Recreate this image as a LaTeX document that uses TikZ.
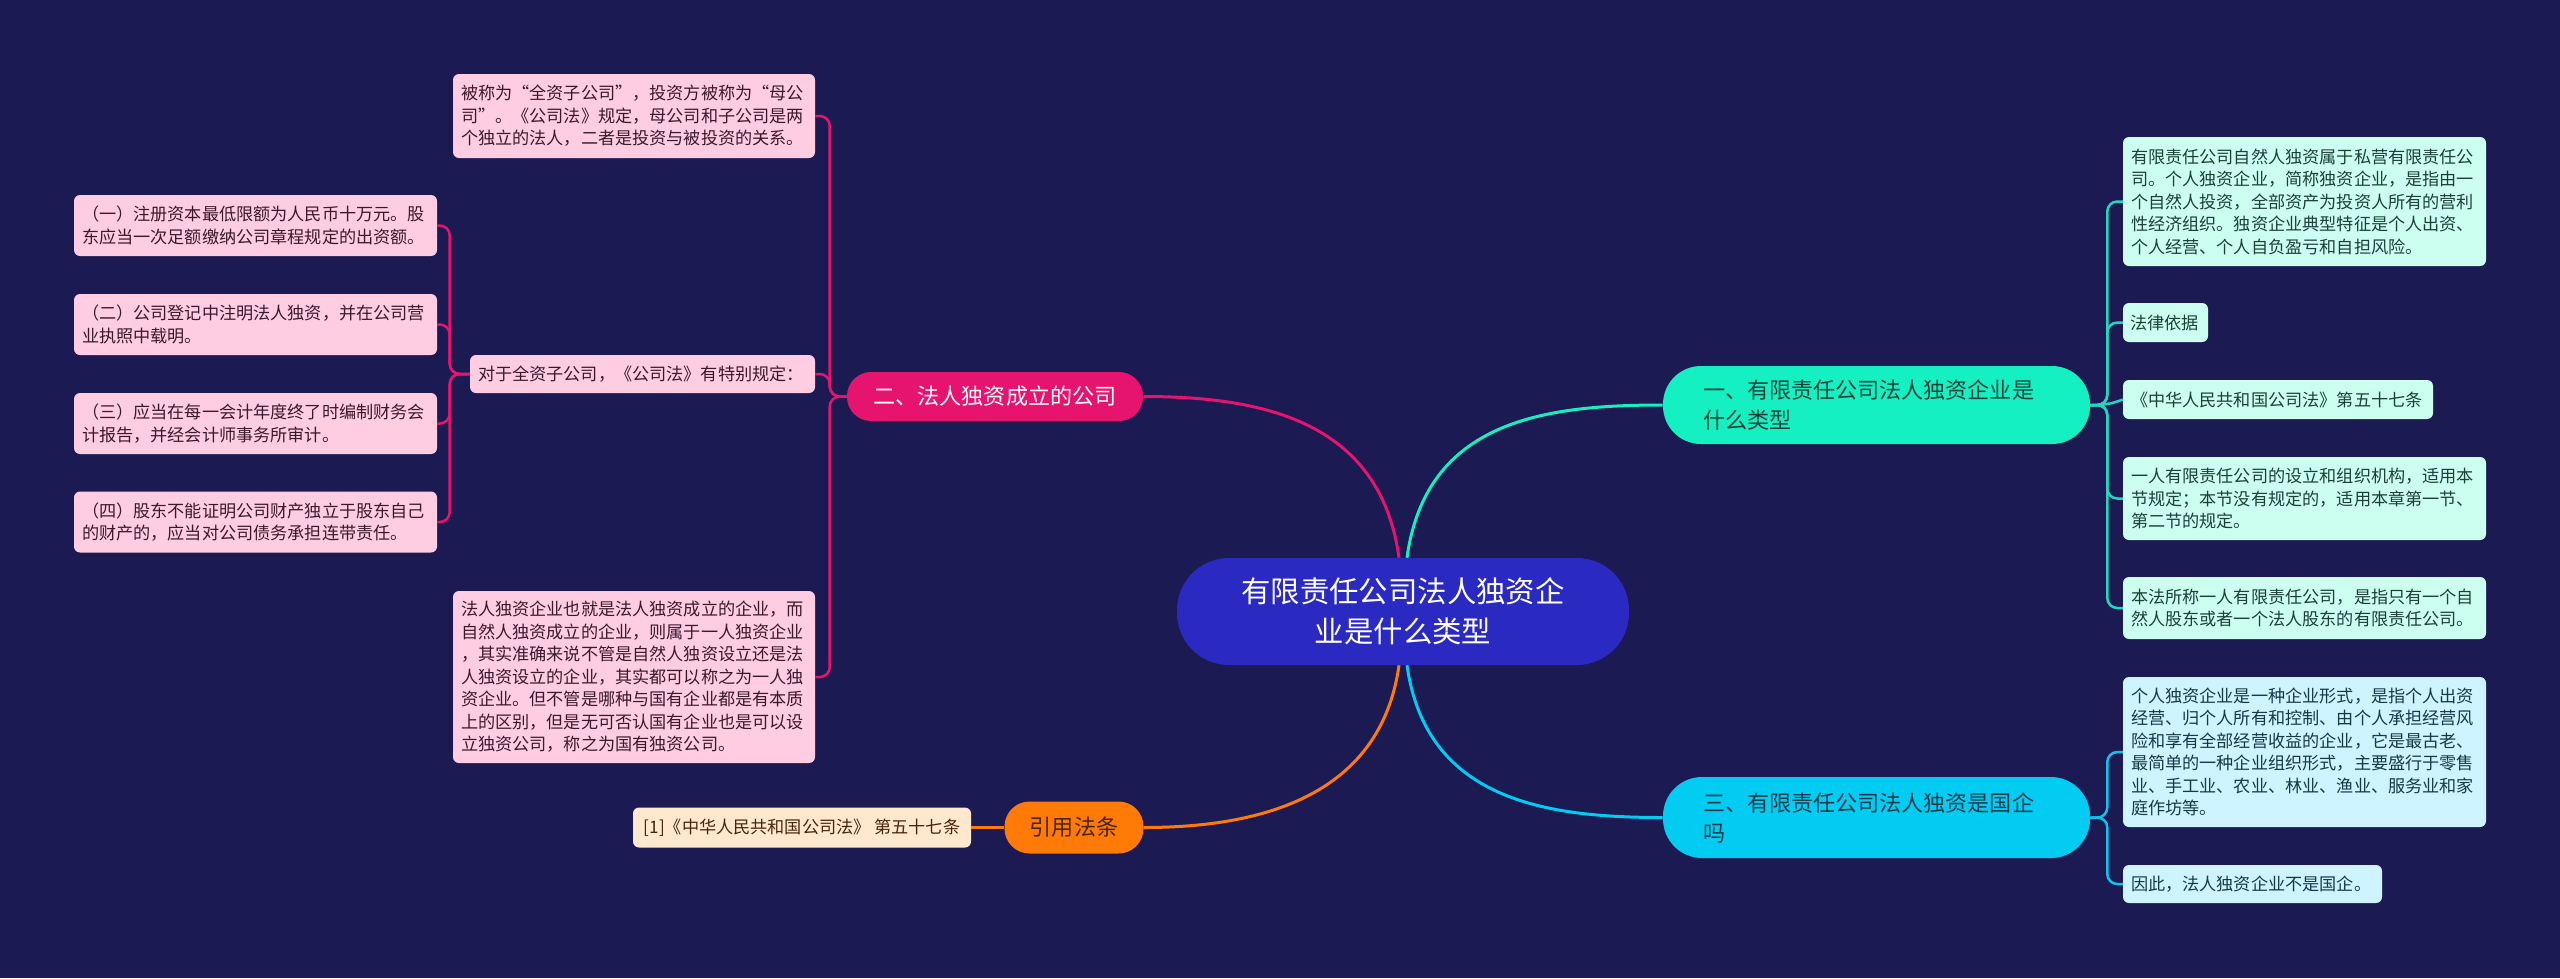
\documentclass[tikz,border=0pt]{standalone}
\usepackage{fontspec}
\usepackage{xcolor}
\newfontfamily\cjk{Noto Sans CJK SC}
\newdimen\pxu \pxu=0.25mm
\definecolor{bgnavy}{HTML}{1B1A52}
\definecolor{rootblue}{HTML}{2A2AC2}
\definecolor{mint}{HTML}{14F0C2}
\definecolor{mintline}{HTML}{22D6C2}
\definecolor{skyblue}{HTML}{02CCF2}
\definecolor{skyline}{HTML}{12C2EC}
\definecolor{rose}{HTML}{E6146E}
\definecolor{amber}{HTML}{FF7A06}
\definecolor{pinkleaf}{HTML}{FFCDE2}
\definecolor{mintleaf}{HTML}{CDFFF1}
\definecolor{skyleaf}{HTML}{CDF4FF}
\definecolor{peachleaf}{HTML}{FFE8CD}
\definecolor{roseink}{HTML}{3A1A2A}
\definecolor{mintink}{HTML}{1A4038}
\definecolor{skyink}{HTML}{173848}
\definecolor{amberink}{HTML}{452410}

\begin{document}
\begin{tikzpicture}[x=\pxu, y=-\pxu,
  topic/.style={font=\cjk\fontsize{20.9}{28.5}\selectfont, text=white, fill=rootblue,
    rounded corners=52\pxu, align=center, minimum width=452\pxu, minimum height=107\pxu},
  branch/.style={font=\cjk\fontsize{15.7}{21.3}\selectfont, rounded corners=24\pxu,
    inner sep=0pt},
  leaf/.style={font=\cjk\fontsize{12.2}{16}\selectfont, rounded corners=6\pxu,
    align=left, inner xsep=8\pxu, inner ysep=0pt},
  link/.style={line width=3\pxu},
  twig/.style={line width=2.5\pxu, rounded corners=10\pxu}]

  \fill[bgnavy] (0,0) rectangle (2560,978);

  \node[topic] (root) at (1403,611.5) {有限责任公司法人独资企\\业是什么类型};

  \node[branch, fill=mint, text=mintink, align=left, text width=347\pxu, inner xsep=40\pxu,
    minimum height=78\pxu, rounded corners=38\pxu] (b1) at (1876.5,405)
    {一、有限责任公司法人独资企业是\\什么类型};
  \node[branch, fill=rose, text=white, minimum width=296\pxu, minimum height=49\pxu]
    (b2) at (995,396.5) {二、法人独资成立的公司};
  \node[branch, fill=skyblue, text=skyink, align=left, text width=347\pxu, inner xsep=40\pxu,
    minimum height=81\pxu, rounded corners=39\pxu] (b3) at (1876.5,817.5)
    {三、有限责任公司法人独资是国企\\吗};
  \node[branch, fill=amber, text=amberink, minimum width=139\pxu, minimum height=52\pxu,
    rounded corners=25\pxu] (b4) at (1074,827.5) {引用法条};

  \node[leaf, fill=pinkleaf, text=roseink, text width=346\pxu, minimum height=84\pxu]
    (l1) at (634,116) {被称为“全资子公司”，投资方被称为“母公\\司”。《公司法》规定，母公司和子公司是两\\个独立的法人，二者是投资与被投资的关系。};
  \node[leaf, fill=pinkleaf, text=roseink, text width=329\pxu, minimum height=38\pxu]
    (l2) at (642.5,374) {对于全资子公司，《公司法》有特别规定：};
  \node[leaf, fill=pinkleaf, text=roseink, text width=346\pxu, minimum height=172\pxu]
    (l3) at (634,677) {法人独资企业也就是法人独资成立的企业，而\\自然人独资成立的企业，则属于一人独资企业\\，其实准确来说不管是自然人独资设立还是法\\人独资设立的企业，其实都可以称之为一人独\\资企业。但不管是哪种与国有企业都是有本质\\上的区别，但是无可否认国有企业也是可以设\\立独资公司，称之为国有独资公司。};

  \node[leaf, fill=pinkleaf, text=roseink, text width=347\pxu, minimum height=61\pxu]
    (s1) at (255.5,225.5) {（一）注册资本最低限额为人民币十万元。股\\东应当一次足额缴纳公司章程规定的出资额。};
  \node[leaf, fill=pinkleaf, text=roseink, text width=347\pxu, minimum height=61\pxu]
    (s2) at (255.5,324.5) {（二）公司登记中注明法人独资，并在公司营\\业执照中载明。};
  \node[leaf, fill=pinkleaf, text=roseink, text width=347\pxu, minimum height=61\pxu]
    (s3) at (255.5,423.5) {（三）应当在每一会计年度终了时编制财务会\\计报告，并经会计师事务所审计。};
  \node[leaf, fill=pinkleaf, text=roseink, text width=347\pxu, minimum height=61\pxu]
    (s4) at (255.5,522) {（四）股东不能证明公司财产独立于股东自己\\的财产的，应当对公司债务承担连带责任。};

  \node[leaf, fill=peachleaf, text=amberink, minimum width=338\pxu, minimum height=40\pxu]
    (c1) at (802,827.5) {[1]《中华人民共和国公司法》 第五十七条};

  \node[leaf, fill=mintleaf, text=mintink, text width=347\pxu, minimum height=129\pxu]
    (r1) at (2304.5,201.5) {有限责任公司自然人独资属于私营有限责任公\\司。个人独资企业，简称独资企业，是指由一\\个自然人投资，全部资产为投资人所有的营利\\性经济组织。独资企业典型特征是个人出资、\\个人经营、个人自负盈亏和自担风险。};
  \node[leaf, fill=mintleaf, text=mintink, text width=71\pxu, inner xsep=7\pxu, minimum height=39\pxu]
    (r2) at (2165.5,322.5) {法律依据};
  \node[leaf, fill=mintleaf, text=mintink, text width=294\pxu, minimum height=39\pxu]
    (r3) at (2278,399.5) {《中华人民共和国公司法》第五十七条};
  \node[leaf, fill=mintleaf, text=mintink, text width=347\pxu, minimum height=83\pxu]
    (r4) at (2304.5,498.5) {一人有限责任公司的设立和组织机构，适用本\\节规定；本节没有规定的，适用本章第一节、\\第二节的规定。};
  \node[leaf, fill=mintleaf, text=mintink, text width=347\pxu, minimum height=62\pxu]
    (r5) at (2304.5,608) {本法所称一人有限责任公司，是指只有一个自\\然人股东或者一个法人股东的有限责任公司。};

  \node[leaf, fill=skyleaf, text=skyink, text width=347\pxu, minimum height=150\pxu]
    (r6) at (2304.5,752) {个人独资企业是一种企业形式，是指个人出资\\经营、归个人所有和控制、由个人承担经营风\\险和享有全部经营收益的企业，它是最古老、\\最简单的一种企业组织形式，主要盛行于零售\\业、手工业、农业、林业、渔业、服务业和家\\庭作坊等。};
  \node[leaf, fill=skyleaf, text=skyink, text width=243\pxu, minimum height=38\pxu]
    (r7) at (2252.5,884) {因此，法人独资企业不是国企。};

  \draw[link, rose] ([xshift=-4\pxu]root.north) .. controls +(-19,-138) and +(117,0) .. (b2.east);
  \draw[link, mint] ([xshift=4\pxu]root.north) .. controls +(19,-138) and +(-117,0) .. (b1.west);
  \draw[link, amber] ([xshift=-4\pxu]root.south) .. controls +(-19,135) and +(110,0) .. (b4.east);
  \draw[link, skyblue] ([xshift=4\pxu]root.south) .. controls +(19,135) and +(-117,0) .. (b3.west);

  \foreach \leaf in {l1,l2,l3}
    \draw[twig, rose] (b2.west) -- ++(-17,0) |- (\leaf.east);
  \foreach \leaf in {s1,s2,s3,s4}
    \draw[twig, rose] (l2.west) -- ++(-20,0) |- (\leaf.east);
  \foreach \leaf in {r1,r2,r4,r5}
    \draw[twig, mintline] (b1.east) -- ++(17,0) |- (\leaf.west);
  \draw[twig, mintline] (b1.east) -- ++(17,0) -- (r3.west);
  \foreach \leaf in {r6,r7}
    \draw[twig, skyline] (b3.east) -- ++(17,0) |- (\leaf.west);
  \draw[twig, amber] (b4.west) -- (c1.east);
\end{tikzpicture}
\end{document}
